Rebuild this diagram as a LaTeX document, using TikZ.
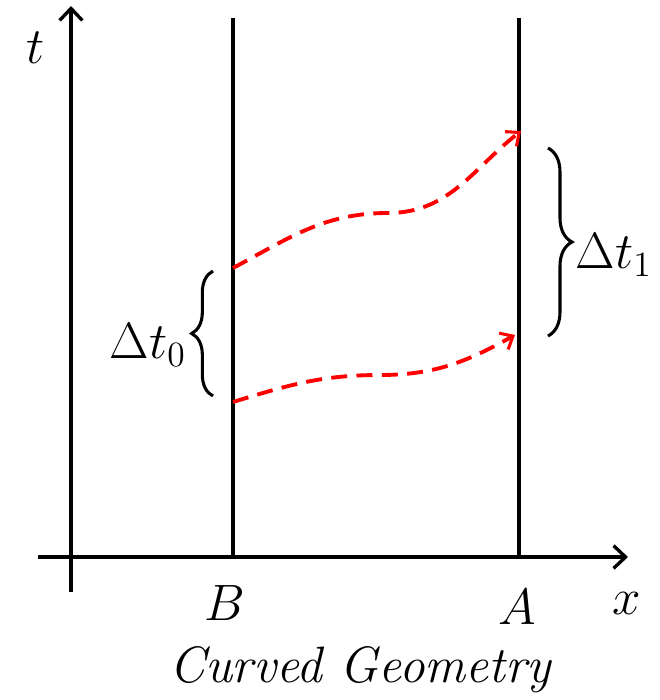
\documentclass[tikz,border=0pt]{standalone}
\usepackage{tikz}
\usetikzlibrary{arrows.meta,decorations.pathreplacing}
\begin{document}
\begin{tikzpicture}[x=0.75pt,y=-0.75pt,
  axis/.style={line width=2.5pt,-{Straight Barb[length=9pt,width=17pt,line width=2.5pt]}},
  wline/.style={line width=2.5pt},
  signal/.style={red,line width=2.9pt,dash pattern=on 12pt off 7pt,-{Straight Barb[length=8pt,width=14pt,line width=2.3pt]}},
  bracestyle/.style={line width=2.3pt,decoration={brace,amplitude=#1},decorate},
  lab/.style={font=\huge,scale=1.85},
]
\useasboundingbox (0,0) rectangle (660,700);
% axes
\coordinate (t0) at (71,592);
\coordinate (t1) at (71,6);
\coordinate (x0) at (38,557);
\coordinate (x1) at (628,557);
\draw[axis] (t0) -- (t1);
\draw[axis] (x0) -- (x1);
% world lines
\coordinate (B0) at (233,557);
\coordinate (B1) at (233,18);
\coordinate (A0) at (519,557);
\coordinate (A1) at (519,18);
\draw[wline] (B0) -- (B1);
\draw[wline] (A0) -- (A1);
% signals
\coordinate (s1a) at (233,268);
\coordinate (s1m) at (388,213);
\coordinate (s1b) at (521,131);
\coordinate (s2a) at (233,402);
\coordinate (s2m) at (380,375);
\coordinate (s2b) at (515,335);
\draw[signal] (s1a) to[out=28,in=180] (s1m) to[out=0,in=218] (s1b);
\draw[signal] (s2a) to[out=17,in=180] (s2m) to[out=0,in=209] (s2b);
% braces
\coordinate (b0a) at (213,396);
\coordinate (b0b) at (213,271);
\coordinate (b1a) at (548,148);
\coordinate (b1b) at (548,336);
\draw[bracestyle=16pt] (b0a) -- (b0b);
\draw[bracestyle=18pt] (b1a) -- (b1b);
% labels
\node[lab] (lt) at (36,48) {$t$};
\node[lab] (lx) at (627,603) {$x$};
\node[lab] (lB) at (225,603) {$B$};
\node[lab] (lA) at (517,607) {$A$};
\node[lab] (ldt0) at (148,345) {$\Delta t_0$};
\node[lab] (ldt1) at (614,255) {$\Delta t_1$};
\node[lab] (title) at (360,670) {\itshape Curved Geometry};
\end{tikzpicture}
\end{document}
